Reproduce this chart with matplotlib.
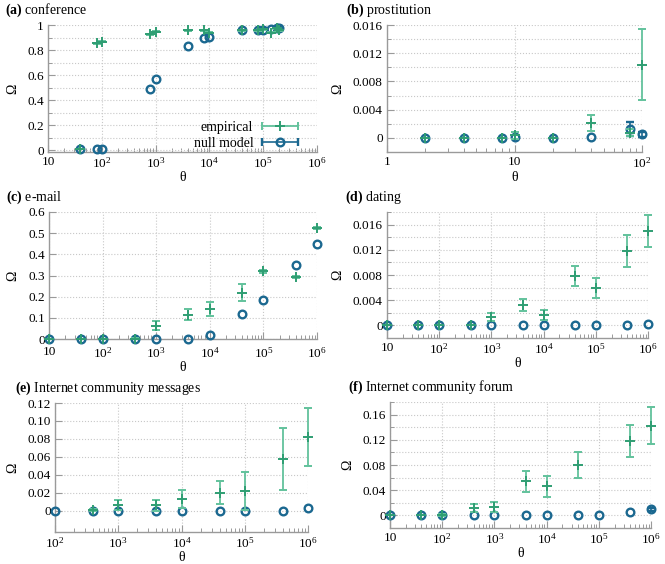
import numpy as np
import matplotlib
matplotlib.use("Agg")
import matplotlib.pyplot as plt
from matplotlib.ticker import LogLocator, FixedLocator, FuncFormatter, NullFormatter
from matplotlib.container import ErrorbarContainer
from matplotlib.legend_handler import HandlerErrorbar

plt.rcParams['font.family'] = ['Liberation Serif', 'DejaVu Serif']
plt.rcParams['mathtext.fontset'] = 'custom'
plt.rcParams['mathtext.rm'] = 'Liberation Serif'
plt.rcParams['mathtext.it'] = 'Liberation Serif:italic'
plt.rcParams['mathtext.bf'] = 'Liberation Serif:bold'

GREEN = '#2f9e73'
GREEN_BAR = '#62c29c'
BLUE = '#1b6890'
GRAYLINE = '#9a9a9a'

nan = np.nan

# --- (a) conference ---
a_theta = [40, 80, 100, 800, 1000, 4000, 8000, 1e4, 4e4, 8e4, 1e5, 1.4e5, 1.8e5, 2e5]
a_emp = [0.01, 0.853, 0.867, 0.925, 0.947, 0.96, 0.96, 0.94, 0.96, 0.96, 0.965, 0.94, 0.973, 0.96]
a_emp_err = [0.003, 0.005, 0.005, 0.005, 0.005, 0.004, 0.004, 0.004, 0.004, 0.004, 0.004, 0.005, 0.004, 0.004]
a_null = [0.008, 0.008, 0.012, 0.487, 0.571, 0.832, 0.90, 0.907, 0.958, 0.958, 0.96, 0.968, 0.98, 0.975]
a_null_err = [0.0] * 14

# --- (b) prostitution ---
b_theta = [2, 4, 8, 10, 20, 40, 80, 100]
b_emp = [0.0, 0.0, 0.0, 0.0004, 0.0, 0.0021, 0.0007, 0.0104]
b_emp_err = [0.0, 0.0, 0.0, 0.0005, 0.0, 0.0011, 0.0005, 0.0051]
b_null = [0.0, 0.0, 0.0, 0.0001, 0.0, 0.0001, 0.0012, 0.0005]
b_null_err = [0.0, 0.0, 0.0, 0.0, 0.0, 0.0, 0.001, 0.0004]

# --- (c) e-mail ---
c_theta = [10, 40, 100, 400, 1e3, 4e3, 1e4, 4e4, 1e5, 4e5, 1e6]
c_emp = [0.0, 0.0, 0.0, 0.002, 0.063, 0.115, 0.14, 0.218, 0.319, 0.294, 0.524]
c_emp_err = [0.0, 0.0, 0.0, 0.004, 0.02, 0.026, 0.033, 0.04, 0.006, 0.006, 0.006]
c_null = [0.0, 0.0, 0.0, 0.0, 0.0, 0.0, 0.019, 0.116, 0.185, 0.348, 0.447]
c_null_err = [0.0] * 11

# --- (d) dating ---
d_theta = [10, 40, 100, 400, 1e3, 4e3, 1e4, 4e4, 1e5, 4e5, 1e6]
d_emp = [0.0, 0.0, 0.0, 0.0, 0.0013, 0.00325, 0.0017, 0.0078, 0.0059, 0.0118, 0.01495]
d_emp_err = [0.0, 0.0, 0.0, 0.0, 0.0006, 0.001, 0.0008, 0.0016, 0.0016, 0.0025, 0.0025]
d_null = [0.0, 0.0, 0.0, 0.0, 0.0, 0.0, 0.0, 0.0, 0.0, 0.0, 0.0003]
d_null_err = [0.0] * 11

# --- (e) Internet community messages ---
e_theta = [100, 400, 1e3, 4e3, 1e4, 4e4, 1e5, 4e5, 1e6]
e_emp = [nan, 0.0005, 0.0066, 0.006, 0.0133, 0.02, 0.0218, 0.0572, 0.082]
e_emp_err = [nan, 0.0008, 0.0055, 0.006, 0.01, 0.013, 0.0215, 0.0345, 0.0325]
e_null = [0.0, 0.0, 0.0, 0.0, 0.0, 0.0, 0.0, 0.0, 0.003]
e_null_err = [0.0] * 9

# --- (f) Internet community forum ---
f_theta = [10, 40, 100, 400, 1e3, 4e3, 1e4, 4e4, 1e5, 4e5, 1e6]
f_emp = [0.0, 0.0, 0.0005, 0.012, 0.013, 0.054, 0.046, 0.080, nan, 0.118, 0.1426]
f_emp_err = [0.0, 0.0, 0.001, 0.006, 0.008, 0.017, 0.0165, 0.021, nan, 0.0255, 0.029]
f_null = [0.0, 0.0, 0.0, 0.0, 0.0, 0.0, 0.0, 0.0, 0.0005, 0.006, 0.0095]
f_null_err = [0.0] * 10 + [0.003]

W, H = 665, 564


def log_fmt(v, pos):
    n = int(round(np.log10(v)))
    if n == 0:
        return '1'
    if n == 1:
        return '10'
    return r'$10^{%d}$' % n


def y_fmt(fmt=None):
    def f(v, pos):
        if abs(v) < 1e-12:
            return '0'
        if fmt:
            return fmt % v
        return '%g' % round(v, 6)
    return FuncFormatter(f)


def make_ax(fig, l, r, t, b):
    return fig.add_axes([l / W, 1 - b / H, (r - l) / W, (b - t) / H])


def style(ax, title, xlim, ylim, ymaj, ymin, yfmt=None, xpad=3):
    ax.set_xscale('log')
    ax.set_xlim(*xlim)
    ax.set_ylim(*ylim)
    ax.xaxis.set_major_locator(LogLocator(base=10, numticks=20))
    ax.xaxis.set_minor_locator(LogLocator(base=10, subs=np.arange(2, 10), numticks=20))
    ax.xaxis.set_major_formatter(FuncFormatter(log_fmt))
    ax.xaxis.set_minor_formatter(NullFormatter())
    top = ylim[1] + 1e-9
    ax.yaxis.set_major_locator(FixedLocator(np.arange(0, top, ymaj)))
    ax.yaxis.set_minor_locator(FixedLocator(np.arange(0, top, ymin)))
    ax.yaxis.set_major_formatter(y_fmt(yfmt))
    for s in ['top', 'right']:
        ax.spines[s].set_visible(False)
    for s in ['left', 'bottom']:
        ax.spines[s].set_color(GRAYLINE)
        ax.spines[s].set_linewidth(1.0)
    ax.tick_params(which='both', direction='in', color=GRAYLINE, labelsize=9.5)
    ax.tick_params(axis='y', pad=3)
    ax.tick_params(axis='x', pad=xpad)
    ax.tick_params(which='major', length=5, width=0.8)
    ax.tick_params(which='minor', length=3, width=0.7)
    ax.grid(True, which='major', axis='x', ls=':', color='#c8c8c8', lw=0.8)
    ax.grid(True, which='both', axis='y', ls=':', color='#c8c8c8', lw=0.8)
    ax.set_axisbelow(True)
    ax.set_xlabel('θ', fontsize=10, labelpad=0)
    ax.set_ylabel('Ω', fontsize=10, labelpad=6)
    ax.set_title(title, loc='left', fontsize=10, x=-0.16, pad=8)


def nz(err):
    err = np.asarray(err, dtype=float)
    return np.where(err > 0, err, nan)


def draw(ax, x, emp, emp_err, null, null_err):
    ax.errorbar(x, null, yerr=nz(null_err), fmt='o', ms=5.5, mfc='none', mec=BLUE, mew=1.7,
                ecolor=BLUE, elinewidth=1.2, capsize=3, capthick=1.0, clip_on=False, zorder=3)
    ax.errorbar(x, emp, yerr=nz(emp_err), fmt='+', ms=7.5, mec=GREEN, mew=1.4,
                ecolor=GREEN_BAR, elinewidth=1.3, capsize=3, capthick=1.0, clip_on=False, zorder=4)


fig = plt.figure(figsize=(W / 100, H / 100), dpi=100)

ax = make_ax(fig, 48, 317, 25, 152)
draw(ax, a_theta, a_emp, a_emp_err, a_null, a_null_err)
style(ax, r'$\mathbf{(a)}$ conference', (10, 1e6), (-0.013, 1.0), 0.2, 0.1)
h1 = ax.errorbar([nan], [nan], xerr=[1], fmt='+', ms=7.5, mec=GREEN, mew=1.4,
                 ecolor=GREEN_BAR, elinewidth=1.3, capsize=3)
h2 = ax.errorbar([nan], [nan], xerr=[1], fmt='o', ms=5.5, mfc='none', mec=BLUE, mew=1.7,
                 ecolor=BLUE, elinewidth=1.2, capsize=3)
ax.legend([h1, h2], ['empirical', 'null model'], loc='lower right', bbox_to_anchor=(0.98, -0.08),
          frameon=False, markerfirst=False, handlelength=2.8, fontsize=10,
          labelspacing=0.2, handletextpad=0.5,
          handler_map={ErrorbarContainer: HandlerErrorbar(xerr_size=1.3)})

ax = make_ax(fig, 387, 642, 25, 152)
draw(ax, b_theta, b_emp, b_emp_err, b_null, b_null_err)
style(ax, r'$\mathbf{(b)}$ prostitution', (1, 100), (-0.002, 0.016), 0.004, 0.002)

ax = make_ax(fig, 49, 317, 212, 339)
draw(ax, c_theta, c_emp, c_emp_err, c_null, c_null_err)
style(ax, r'$\mathbf{(c)}$ e-mail', (10, 1e6), (0, 0.6), 0.1, 0.1, xpad=5)

ax = make_ax(fig, 387, 648, 212, 338)
draw(ax, d_theta, d_emp, d_emp_err, d_null, d_null_err)
style(ax, r'$\mathbf{(d)}$ dating', (10, 1e6), (-0.002, 0.018), 0.004, 0.002)

ax = make_ax(fig, 55, 308, 403, 532)
draw(ax, e_theta, e_emp, e_emp_err, e_null, e_null_err)
style(ax, r'$\mathbf{(e)}$ Internet community messages', (100, 1e6), (-0.024, 0.12), 0.02, 0.02, '%.2f')

ax = make_ax(fig, 390, 651, 402, 528)
draw(ax, f_theta, f_emp, f_emp_err, f_null, f_null_err)
style(ax, r'$\mathbf{(f)}$ Internet community forum', (10, 1e6), (-0.02, 0.18), 0.04, 0.02)

fig.savefig('out.png', dpi=100)
